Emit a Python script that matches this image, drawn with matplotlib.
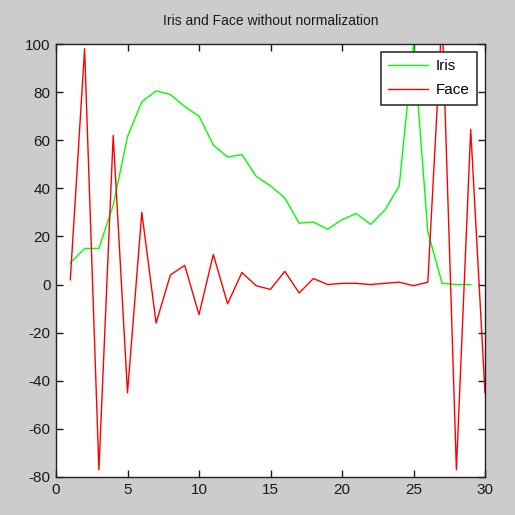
import numpy as np
import matplotlib.pyplot as plt

plt.rcParams['font.family'] = ['Liberation Sans', 'DejaVu Sans']
plt.rcParams['axes.unicode_minus'] = False

# values
iris_x = np.arange(1, 30)
iris = [9, 15, 15, 33, 61.5, 76, 80.5, 79, 74, 70, 58, 53, 54, 45, 41,
        36, 25.5, 26, 23, 27, 29.5, 25, 31, 41, 100, 22, 0.5, 0, 0]
face_x = np.arange(1, 31)
face = [2, 98, -77, 62, -45, 30, -16, 4, 8, -12.5, 12.5, -8, 5, -0.5, -2,
        5.5, -3.5, 2.5, 0, 0.5, 0.5, 0, 0.5, 1, -0.5, 1, 112, -77, 64.5, -45]

fig = plt.figure(figsize=(5.15, 5.15), dpi=100, facecolor='#cccccc')
ax = fig.add_axes([56/515, (515-477)/515, (485-56)/515, (477-44)/515])
ax.set_facecolor('white')

ax.plot(iris_x, iris, color='#00ff00', lw=1, label='Iris')
ax.plot(face_x, face, color='#ff0000', lw=1, label='Face')

ax.set_xlim(0, 30)
ax.set_ylim(-80, 100)
ax.set_xticks(np.arange(0, 31, 5))
ax.set_yticks(np.arange(-80, 101, 20))
ax.tick_params(direction='in', top=True, right=True, length=5, width=1,
               labelsize=11, colors='#1a1a1a', pad=4)
for s in ax.spines.values():
    s.set_linewidth(1)
    s.set_color('#222222')

ax.set_title('Iris and Face without normalization', fontsize=10, pad=14,
             color='#1a1a1a')

leg = ax.legend(loc='upper right', fontsize=11, fancybox=False,
                framealpha=1, edgecolor='#333333', borderaxespad=0.5,
                handlelength=2.6, handletextpad=0.5, borderpad=0.5,
                labelspacing=0.65)
leg.get_frame().set_linewidth(1.2)

fig.savefig('out.png', dpi=100, facecolor=fig.get_facecolor())
